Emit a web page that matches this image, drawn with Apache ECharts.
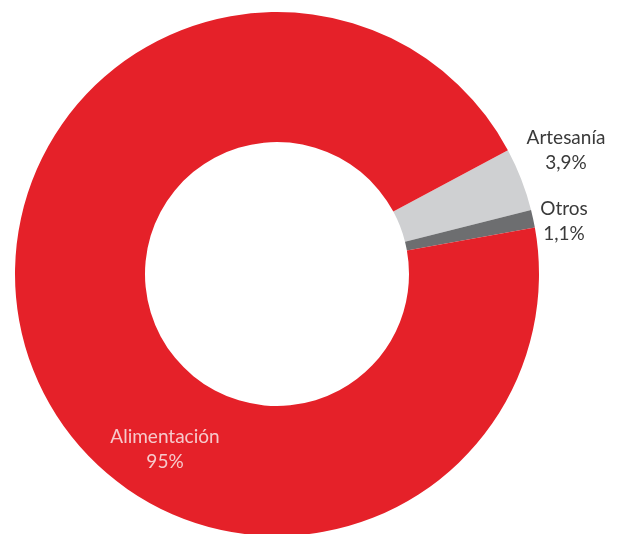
<!DOCTYPE html>
<html>
<head>
<meta charset="utf-8">
<script src="https://cdn.jsdelivr.net/npm/echarts@6/dist/echarts.min.js"></script>
<style>
html,body{margin:0;padding:0;background:#fff;}
#chart{width:617px;height:534px;}
</style>
</head>
<body>
<div id="chart"></div>
<script>
// Data
var categories = ['Artesanía', 'Otros', 'Alimentación'];
var values = [3.9, 1.1, 95];
var valueLabels = ['3,9%', '1,1%', '95%'];
var colors = ['#cfd0d2', '#6d6e70', '#e52129'];

var chart = echarts.init(document.getElementById('chart'), null, {renderer: 'canvas'});

var labelPos = {
  'Artesanía': {x: 566, y: 150},
  'Otros': {x: 564, y: 221},
  'Alimentación': {x: 165, y: 449}
};

var data = categories.map(function (c, i) {
  return {
    name: c,
    value: values[i],
    itemStyle: {color: colors[i]},
    label: {
      color: c === 'Alimentación' ? '#f6c9cb' : '#3a3a3a'
    }
  };
});

chart.setOption({
  animation: false,
  series: [{
    type: 'pie',
    center: [277, 274],
    radius: [132, 262],
    startAngle: 28.2,
    clockwise: true,
    avoidLabelOverlap: false,
    data: data,
    itemStyle: {borderWidth: 0},
    label: {
      show: true,
      position: 'inside',
      fontFamily: 'Lato, "Open Sans", sans-serif',
      fontSize: 19,
      lineHeight: 25,
      align: 'center',
      formatter: function (p) {
        return p.name + '\n' + valueLabels[p.dataIndex];
      }
    },
    labelLine: {show: false},
    labelLayout: function (params) {
      var name = categories[params.dataIndex];
      var pos = labelPos[name];
      return {x: pos.x, y: pos.y, align: 'center', verticalAlign: 'middle'};
    }
  }]
});
</script>
</body>
</html>
